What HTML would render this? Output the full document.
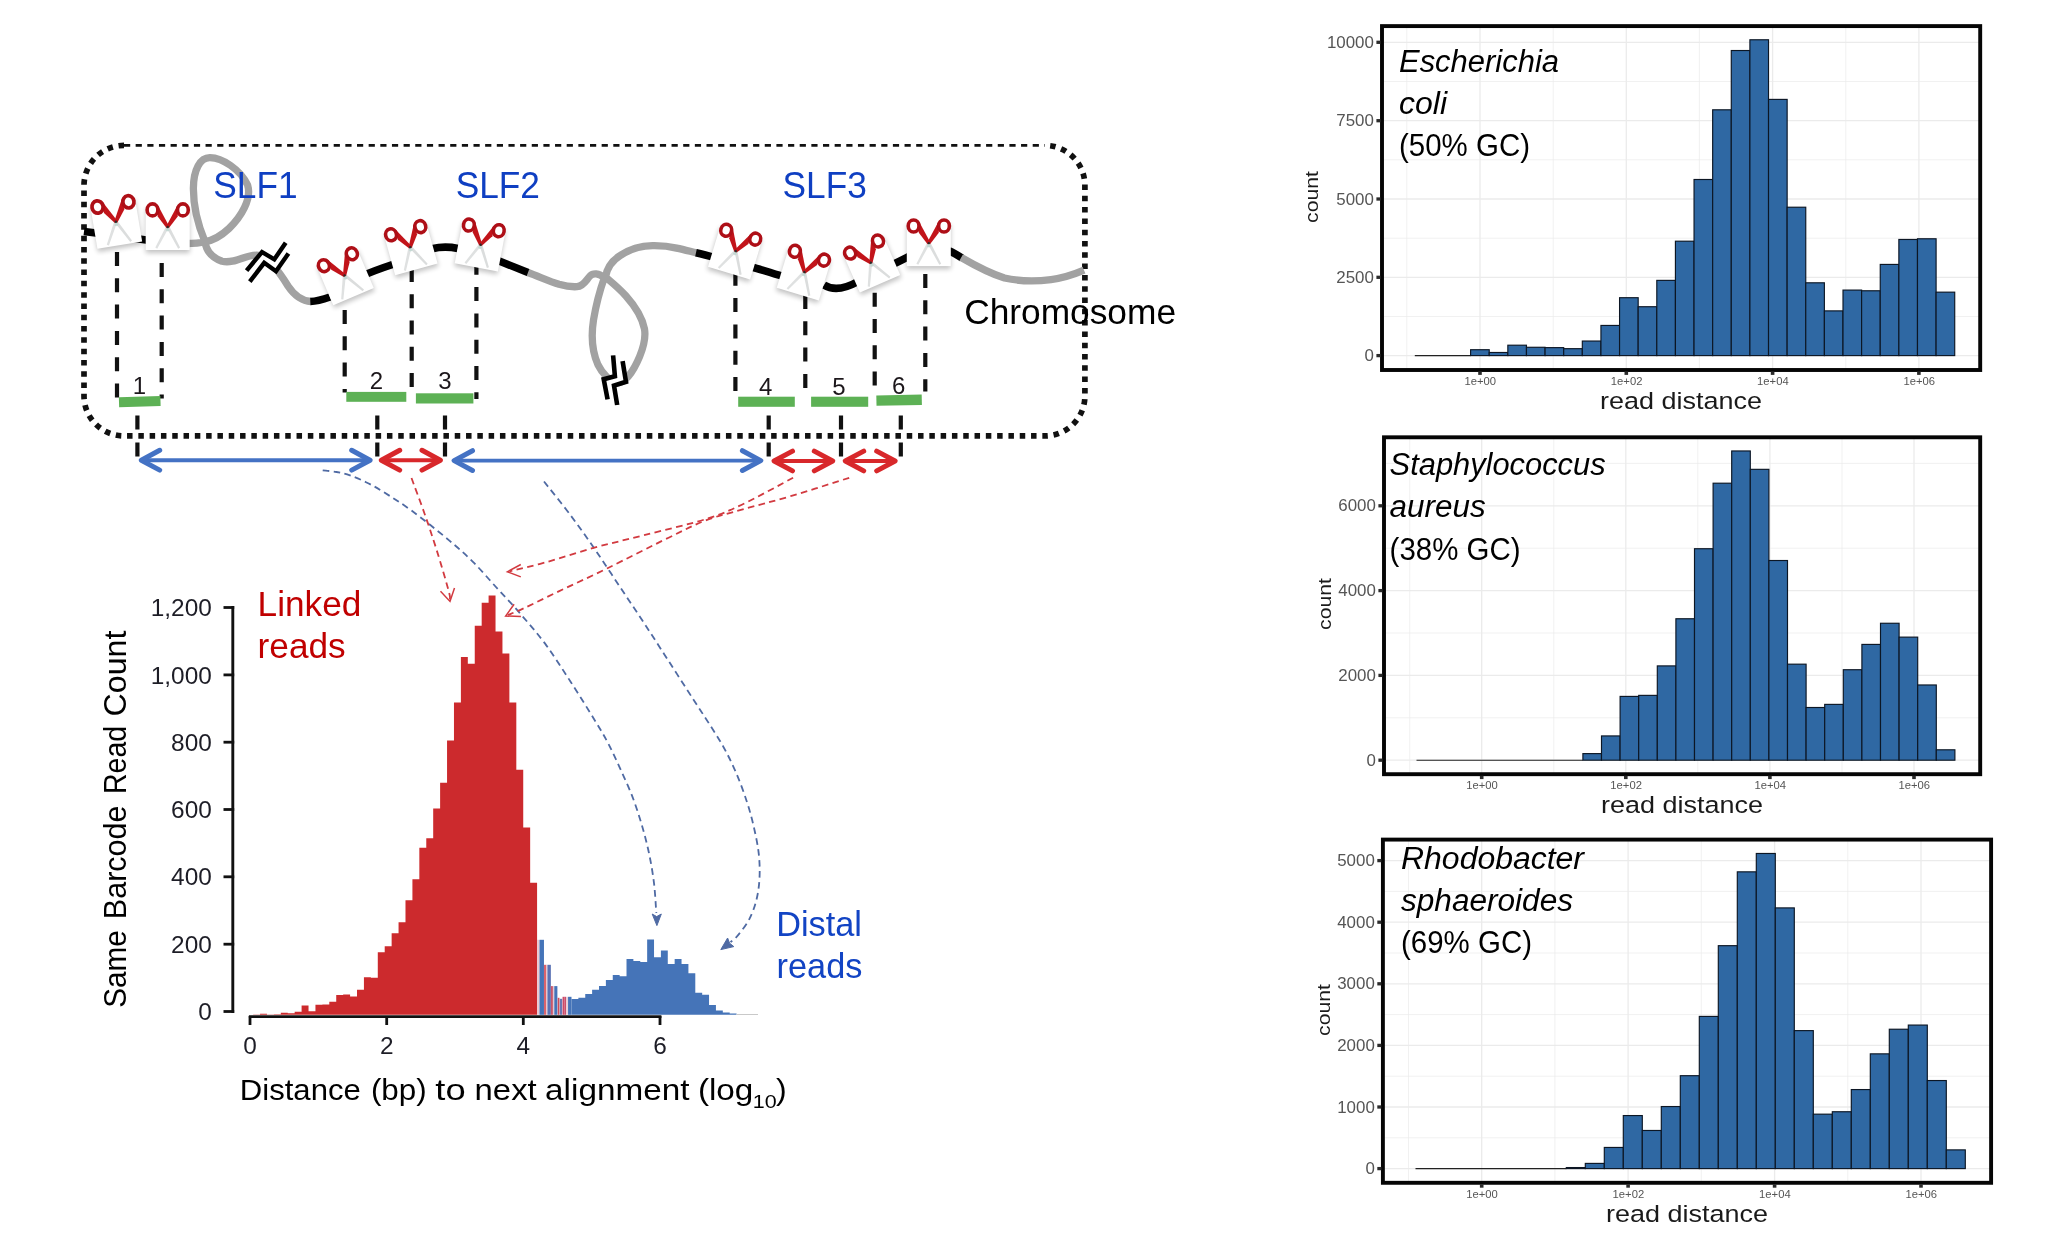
<!DOCTYPE html>
<html><head><meta charset="utf-8"><title>Figure</title>
<style>html,body{margin:0;padding:0;background:#fff;}svg{display:block;will-change:transform;}text{font-family:"Liberation Sans",sans-serif;}</style>
</head><body>
<svg width="2048" height="1245" viewBox="0 0 2048 1245">
<rect x="0" y="0" width="2048" height="1245" fill="#ffffff"/>
<defs>
<filter id="sh" x="-40%" y="-40%" width="180%" height="190%"><feGaussianBlur stdDeviation="2.6"/></filter>
<g id="sc">
<rect x="0" y="8" width="44" height="44" fill="#000" opacity="0.24" filter="url(#sh)"/>
<rect x="0" y="0" width="44" height="49" fill="#fff"/>
<path d="M21.2 23.8 L23.8 25.4 L11.5 47.7 L9.6 46.6 Z" fill="#dfe1e1"/>
<path d="M22.8 23.8 L20.2 25.4 L32.5 47.7 L34.4 46.6 Z" fill="#dbdddd"/>
<path d="M22 25 L23.9 26.2 L21.7 30.4 L19.9 29.3 Z" fill="#c4d9d4"/>
<path d="M22 25 L20.1 26.2 L22.3 30.4 L24.1 29.3 Z" fill="#c4d9d4"/>
<path d="M12.0 15.6 L12.2 4.3 L23.3 25.0 L20.8 27.1 Z" fill="#c2141a"/>
<path d="M32.0 15.6 L31.8 4.3 L20.7 25.0 L23.2 27.1 Z" fill="#c2141a"/>
<ellipse cx="6.8" cy="8.9" rx="5.4" ry="6.0" fill="#fff" stroke="#ae0f17" stroke-width="3.6"/>
<ellipse cx="37.2" cy="8.9" rx="5.4" ry="6.0" fill="#fff" stroke="#ae0f17" stroke-width="3.6"/>
<circle cx="22" cy="26" r="1.2" fill="#2c2c2c"/>
</g>
</defs>
<g id="diagram">
<path d="M124.0 145.4 L1044.9 145.4" fill="none" stroke="#111" stroke-width="2.9" stroke-dasharray="6.2 5.45"/>
<path d="M124.0 145.4 A40 40 0 0 0 84.0 185.4 L84.0 395.9 A40 40 0 0 0 124.0 435.9 L1044.9 435.9 A40 40 0 0 0 1084.9 395.9 L1084.9 185.4 A40 40 0 0 0 1044.9 145.4" fill="none" stroke="#111" stroke-width="5.7" stroke-dasharray="5.5 5.8"/>
<path d="M84 231.5 L100 233.5" fill="none" stroke="#000" stroke-width="7.6" stroke-linecap="butt" stroke-linejoin="round" />
<path d="M128 237.5 L150 240.5" fill="none" stroke="#000" stroke-width="7.6" stroke-linecap="butt" stroke-linejoin="round" />
<path d="M186 243.5 C195 243.5 200 243 205 241.7 C198 225 193.2 206 193.4 187.8 C193.6 170 200 157.4 210 157.6 C222 157.8 240 169 247.6 185 C252 199 241 217 229 228.5 C221 236 212 240.6 205 241.7 C206 249 210 257 222 261.3 C236 264.5 248 252.5 260 255.5 C270 258.5 280 273 288 286 C294 295 302 301 311 301.5" fill="none" stroke="#a2a2a2" stroke-width="7.3" stroke-linecap="butt" stroke-linejoin="round" />
<path d="M310.3 301.5 C316 301.3 322 299.8 330 297" fill="none" stroke="#000" stroke-width="7.6" stroke-linecap="butt" stroke-linejoin="round" />
<path d="M362 276 C372 271.5 382 268 394 264" fill="none" stroke="#000" stroke-width="7.6" stroke-linecap="butt" stroke-linejoin="round" />
<path d="M432 248.7 C440 246.8 450 246.8 458 248.5" fill="none" stroke="#000" stroke-width="7.6" stroke-linecap="butt" stroke-linejoin="round" />
<path d="M498 260.5 C508 264.5 518 268.5 528.6 272.7" fill="none" stroke="#000" stroke-width="7.6" stroke-linecap="butt" stroke-linejoin="round" />
<path d="M528 272.5 C540 277 550 281.5 559 284.3 C566 286.3 572 287 577 286.7 C584 286 586 280 590 276 C593 273 599 273 604.3 277.9 C600 290 596 305 593.5 320 C591 336 591.5 350 597.9 364.6 C602 373 610 382 618 383 C626 382 634 370 639.6 356.6 C644 346 646 338 644.5 329 C642 316 634 305 626 296 C618 287 610 281 605.5 277 C607 268 613 260 620.4 255.4 C630 249 641 246 652.5 245.7 C664 245.5 672 247 676.6 248.1 C684 249.7 690 251.3 696.7 252.9" fill="none" stroke="#a2a2a2" stroke-width="7.3" stroke-linecap="butt" stroke-linejoin="round" />
<path d="M696 252.7 C702 254 708 255.6 716 258" fill="none" stroke="#000" stroke-width="7.6" stroke-linecap="butt" stroke-linejoin="round" />
<path d="M752 267 C762 270 771 273 784 276.8" fill="none" stroke="#000" stroke-width="7.6" stroke-linecap="butt" stroke-linejoin="round" />
<path d="M824 285 C832 290 842 290.5 858 281.5" fill="none" stroke="#000" stroke-width="7.6" stroke-linecap="butt" stroke-linejoin="round" />
<path d="M893 264.4 C899 261.5 904 259 909 256.4" fill="none" stroke="#000" stroke-width="7.6" stroke-linecap="butt" stroke-linejoin="round" />
<path d="M949 250.8 C954 253 958 255.5 962 258" fill="none" stroke="#000" stroke-width="7.6" stroke-linecap="butt" stroke-linejoin="round" />
<path d="M961.2 257.5 C975 265.5 990 273.5 1004.5 278 C1020 281.5 1036 281.5 1051 279.7 C1063 278 1074 274.5 1084 270.2" fill="none" stroke="#a2a2a2" stroke-width="7.3" stroke-linecap="butt" stroke-linejoin="round" />
<path d="M250.5 273.5 L263.1 257.4 L275.15 265.3 L285 251" fill="none" stroke="#fff" stroke-width="8"/>
<path d="M619.0 366 L620.45 379 L608.85 382.35 L611 394" fill="none" stroke="#fff" stroke-width="8"/>
<path d="M246.6 270.6 L262 252 L274.3 259.4 L285.7 242.7" fill="none" stroke="#000" stroke-width="4.4" stroke-linejoin="miter" stroke-linecap="butt"/>
<path d="M249.8 281.6 L264.2 262.8 L276 271.2 L288.4 253.6" fill="none" stroke="#000" stroke-width="4.4" stroke-linejoin="miter" stroke-linecap="butt"/>
<path d="M613.1 355.4 L614.9 376.2 L603.7 379.2 L607.6 399.4" fill="none" stroke="#000" stroke-width="4.6" stroke-linejoin="miter" stroke-linecap="butt"/>
<path d="M622.6 361.2 L626 381.8 L614.0 385.5 L617.2 405" fill="none" stroke="#000" stroke-width="4.6" stroke-linejoin="miter" stroke-linecap="butt"/>
<line x1="117" y1="252" x2="117" y2="398" stroke="#111" stroke-width="4.2" stroke-dasharray="14 12.3" stroke-dashoffset="0.00"/>
<line x1="161.7" y1="263" x2="161.7" y2="398.5" stroke="#111" stroke-width="4.2" stroke-dasharray="14 12.3" stroke-dashoffset="0.00"/>
<line x1="344.7" y1="310" x2="344.7" y2="392.4" stroke="#111" stroke-width="4.2" stroke-dasharray="14 12.3" stroke-dashoffset="0.00"/>
<line x1="411.7" y1="267.9" x2="411.7" y2="387" stroke="#111" stroke-width="4.2" stroke-dasharray="14 12.3" stroke-dashoffset="0.00"/>
<line x1="476.4" y1="260.8" x2="476.4" y2="399" stroke="#111" stroke-width="4.2" stroke-dasharray="14 12.3" stroke-dashoffset="0.00"/>
<line x1="735.4" y1="271.8" x2="735.4" y2="391.5" stroke="#111" stroke-width="4.2" stroke-dasharray="14 12.3" stroke-dashoffset="0.00"/>
<line x1="805.3" y1="295.0" x2="805.3" y2="388" stroke="#111" stroke-width="4.2" stroke-dasharray="14 12.3" stroke-dashoffset="0.00"/>
<line x1="874.7" y1="292.7" x2="874.7" y2="385.7" stroke="#111" stroke-width="4.2" stroke-dasharray="14 12.3" stroke-dashoffset="0.00"/>
<line x1="925.3" y1="274.0" x2="925.3" y2="391.5" stroke="#111" stroke-width="4.2" stroke-dasharray="14 12.3" stroke-dashoffset="0.00"/>
<line x1="137.4" y1="415.4" x2="137.4" y2="456.5" stroke="#111" stroke-width="4.2" stroke-dasharray="14 13"/>
<line x1="377.3" y1="415.4" x2="377.3" y2="456.5" stroke="#111" stroke-width="4.2" stroke-dasharray="14 13"/>
<line x1="445.0" y1="415.4" x2="445.0" y2="456.5" stroke="#111" stroke-width="4.2" stroke-dasharray="14 13"/>
<line x1="768.7" y1="415.4" x2="768.7" y2="456.5" stroke="#111" stroke-width="4.2" stroke-dasharray="14 13"/>
<line x1="841.0" y1="415.4" x2="841.0" y2="456.5" stroke="#111" stroke-width="4.2" stroke-dasharray="14 13"/>
<line x1="900.8" y1="415.4" x2="900.8" y2="456.5" stroke="#111" stroke-width="4.2" stroke-dasharray="14 13"/>
<rect x="119" y="396.6" width="41.5" height="10.0" fill="#5db155" transform="rotate(-1.6 139.75 401.6)"/>
<rect x="346.3" y="391.9" width="60.0" height="9.9" fill="#5db155"/>
<rect x="415.9" y="393.3" width="57.5" height="10.2" fill="#5db155"/>
<rect x="738.2" y="396.7" width="56.6" height="10.1" fill="#5db155"/>
<rect x="811.1" y="396.7" width="57.1" height="10.1" fill="#5db155"/>
<rect x="876.4" y="395.0" width="45.4" height="10.4" fill="#5db155" transform="rotate(-1.2 899.0999999999999 400.2)"/>
<text x="139.4" y="394.1" font-size="24" fill="#1c171b" text-anchor="middle">1</text>
<text x="376.5" y="389.1" font-size="24" fill="#1c171b" text-anchor="middle">2</text>
<text x="445" y="389.1" font-size="24" fill="#1c171b" text-anchor="middle">3</text>
<text x="765.6" y="395" font-size="24" fill="#1c171b" text-anchor="middle">4</text>
<text x="839" y="394.6" font-size="24" fill="#1c171b" text-anchor="middle">5</text>
<text x="898.8" y="394.3" font-size="24" fill="#1c171b" text-anchor="middle">6</text>
<use href="#sc" transform="translate(113.0 204.5) rotate(-9.5) scale(1.03) translate(-22 -9)"/>
<use href="#sc" transform="translate(167.7 210.0) rotate(0) scale(1.0) translate(-22 -9)"/>
<use href="#sc" transform="translate(337.9 259.8) rotate(-23) scale(1.0) translate(-22 -9)"/>
<use href="#sc" transform="translate(405.7 230.8) rotate(-15.5) scale(1.0) translate(-22 -9)"/>
<use href="#sc" transform="translate(483.8 228.0) rotate(10.8) scale(1.0) translate(-22 -9)"/>
<use href="#sc" transform="translate(740.7 234.8) rotate(16.9) scale(1.0) translate(-22 -9)"/>
<use href="#sc" transform="translate(809.4 255.8) rotate(16.9) scale(1.0) translate(-22 -9)"/>
<use href="#sc" transform="translate(864.1 247.1) rotate(-23.5) scale(1.0) translate(-22 -9)"/>
<use href="#sc" transform="translate(928.8 226.1) rotate(0) scale(1.0) translate(-22 -9)"/>
<text x="213.3" y="198.2" font-size="36.6" fill="#0f3fc2" text-anchor="start" textLength="84.3" lengthAdjust="spacingAndGlyphs">SLF1</text>
<text x="455.7" y="198.2" font-size="36.6" fill="#0f3fc2" text-anchor="start" textLength="84.3" lengthAdjust="spacingAndGlyphs">SLF2</text>
<text x="782.5" y="198.2" font-size="36.6" fill="#0f3fc2" text-anchor="start" textLength="84.3" lengthAdjust="spacingAndGlyphs">SLF3</text>
<text x="964.2" y="324.4" font-size="35.3" fill="#000" text-anchor="start" >Chromosome</text>
<g fill="none" stroke="#4472c4" stroke-linecap="round" stroke-linejoin="round">
<line x1="142.2" y1="460.2" x2="369.2" y2="460.2" stroke-width="3.9" stroke-linecap="butt"/>
<path d="M159.7 450.3 L141.29999999999998 460.2 L159.7 470.09999999999997" stroke-width="5.0"/>
<path d="M351.7 450.3 L370.09999999999997 460.2 L351.7 470.09999999999997" stroke-width="5.0"/>
</g>
<g fill="none" stroke="#d8282b" stroke-linecap="round" stroke-linejoin="round">
<line x1="382.2" y1="460.2" x2="439.5" y2="460.2" stroke-width="3.9" stroke-linecap="butt"/>
<path d="M399.7 450.3 L381.3 460.2 L399.7 470.09999999999997" stroke-width="5.0"/>
<path d="M422.0 450.3 L440.4 460.2 L422.0 470.09999999999997" stroke-width="5.0"/>
</g>
<g fill="none" stroke="#4472c4" stroke-linecap="round" stroke-linejoin="round">
<line x1="455.0" y1="460.6" x2="759.9" y2="460.6" stroke-width="3.9" stroke-linecap="butt"/>
<path d="M472.5 450.70000000000005 L454.1 460.6 L472.5 470.5" stroke-width="5.0"/>
<path d="M742.4 450.70000000000005 L760.8 460.6 L742.4 470.5" stroke-width="5.0"/>
</g>
<g fill="none" stroke="#d8282b" stroke-linecap="round" stroke-linejoin="round">
<line x1="775.0" y1="461.0" x2="831.8" y2="461.0" stroke-width="3.9" stroke-linecap="butt"/>
<path d="M792.5 451.1 L774.1 461.0 L792.5 470.9" stroke-width="5.0"/>
<path d="M814.3 451.1 L832.6999999999999 461.0 L814.3 470.9" stroke-width="5.0"/>
</g>
<g fill="none" stroke="#d8282b" stroke-linecap="round" stroke-linejoin="round">
<line x1="846.2" y1="461.0" x2="894.2" y2="461.0" stroke-width="3.9" stroke-linecap="butt"/>
<path d="M863.7 451.1 L845.3000000000001 461.0 L863.7 470.9" stroke-width="5.0"/>
<path d="M876.7 451.1 L895.1 461.0 L876.7 470.9" stroke-width="5.0"/>
</g>
</g>
<g id="curves" fill="none" stroke-width="1.8">
<path d="M322.7 470.3 C325.0 470.6 331.9 471.1 336.5 472.0 C341.1 472.9 345.1 473.7 350.0 475.4 C354.9 477.1 360.5 479.5 366.0 482.2 C371.5 484.9 375.4 486.9 383.2 491.8 C390.9 496.7 401.6 503.2 412.5 511.3 C423.4 519.4 438.7 531.6 448.8 540.1 C458.9 548.6 465.1 554.0 473.2 562.1 C481.3 570.2 489.5 580.0 497.7 588.9 C505.9 597.8 514.0 606.3 522.1 615.8 C530.2 625.2 538.4 634.5 546.5 645.6 C554.6 656.7 562.6 669.4 570.9 682.2 C579.2 695.0 589.9 712.3 596.1 722.5 C602.3 732.7 604.2 735.7 608.2 743.4 C612.2 751.1 616.2 759.9 620.2 768.7 C624.2 777.5 628.7 787.0 632.3 796.4 C635.9 805.8 639.1 815.7 641.9 825.3 C644.7 834.9 647.2 844.6 649.2 854.2 C651.2 863.8 652.8 873.3 654.0 883.1 C655.2 892.9 655.9 908.0 656.3 913.0" stroke="#4f6aa3" stroke-dasharray="6.6 4.4"/>
<path d="M652.2 914.0 L656.9 925.6 L661.3 914.0 L656.7 916.6 Z" stroke="#4f6aa3" fill="#4f6aa3" stroke-width="1" stroke-linejoin="miter"/>
<path d="M544.0 481.5 C548.5 487.2 562.4 504.3 570.9 515.7 C579.4 527.1 587.2 538.1 595.3 549.9 C603.4 561.7 611.6 574.3 619.7 586.5 C627.8 598.7 636.0 610.7 644.1 623.1 C652.2 635.5 660.4 648.3 668.6 661.0 C676.8 673.7 686.5 688.8 693.2 699.2 C699.9 709.6 703.7 715.2 708.8 723.2 C713.9 731.2 719.1 739.0 723.6 747.2 C728.1 755.4 732.0 763.3 735.9 772.3 C739.8 781.3 743.7 792.0 746.7 801.2 C749.7 810.4 752.0 818.9 754.0 827.7 C756.0 836.5 757.9 845.8 758.8 854.2 C759.7 862.6 759.9 870.7 759.5 878.3 C759.1 885.9 758.1 893.2 756.4 900.0 C754.7 906.8 752.2 913.5 749.2 919.3 C746.2 925.1 741.4 931.1 738.3 934.9 C735.2 938.7 731.8 941.0 730.5 942.2" stroke="#4f6aa3" stroke-dasharray="6.6 4.4"/>
<path d="M727.6 938.0 L720.8 949.6 L733.8 946.6 L729.6 943.2 Z" stroke="#4f6aa3" fill="#4f6aa3" stroke-width="1" stroke-linejoin="miter"/>
<path d="M411.5 478.0 C413.6 483.9 420.2 501.2 424.4 513.2 C428.6 525.2 432.5 536.9 436.6 549.9 C440.7 562.9 446.6 583.1 448.8 591.4 C451.0 599.7 449.6 598.1 449.8 599.5" stroke="#d23a40" stroke-dasharray="6.6 4.4"/>
<path d="M440.5 591.2 L450 601.4 L454.5 587.9" stroke="#d23a40" stroke-width="1.5"/>
<path d="M793.1 477.8 C784.5 482.3 756.4 497.8 741.8 504.7 C727.1 511.6 721.5 514.2 705.2 519.3 C688.9 524.4 662.4 530.5 644.1 535.2 C625.8 539.9 611.6 542.9 595.3 547.4 C579.0 551.9 560.8 558.1 546.5 562.1 C532.2 566.1 515.7 569.8 509.5 571.3" stroke="#d23a40" stroke-dasharray="6.6 4.4"/>
<path d="M520.8 564.5 L507.4 571.8 L520.8 576.9" stroke="#d23a40" stroke-width="1.5"/>
<path d="M849.2 477.8 C839.4 480.9 808.5 490.9 790.6 496.2 C772.7 501.5 756.0 505.5 741.8 509.6 C727.6 513.7 717.4 515.9 705.2 520.6 C693.0 525.3 684.9 529.8 668.6 537.7 C652.3 545.6 625.8 559.2 607.5 568.2 C589.2 577.2 572.7 584.7 558.7 591.4 C544.7 598.1 532.2 604.4 523.7 608.3 C515.2 612.2 510.6 613.9 508.0 615.0" stroke="#d23a40" stroke-dasharray="6.6 4.4"/>
<path d="M514.1 604.2 L505.7 616 L520.9 616.5" stroke="#d23a40" stroke-width="1.5"/>
</g>
<g id="hist">
<path d="M253.12 1014.8 L253.12 1014.40 L260.04 1014.40 L260.04 1013.80 L266.97 1013.80 L266.97 1014.40 L273.90 1014.40 L273.90 1014.20 L280.82 1014.20 L280.82 1012.80 L287.75 1012.80 L287.75 1013.20 L294.67 1013.20 L294.67 1011.80 L301.60 1011.80 L301.60 1005.40 L308.53 1005.40 L308.53 1011.20 L315.45 1011.20 L315.45 1004.80 L322.38 1004.80 L322.38 1004.40 L329.30 1004.40 L329.30 1001.80 L336.23 1001.80 L336.23 995.00 L343.16 995.00 L343.16 994.40 L350.08 994.40 L350.08 996.50 L357.01 996.50 L357.01 989.80 L363.93 989.80 L363.93 977.20 L370.86 977.20 L370.86 977.80 L377.79 977.80 L377.79 952.30 L384.71 952.30 L384.71 946.30 L391.64 946.30 L391.64 933.30 L398.56 933.30 L398.56 922.30 L405.49 922.30 L405.49 900.20 L412.42 900.20 L412.42 879.20 L419.34 879.20 L419.34 847.80 L426.27 847.80 L426.27 838.20 L433.19 838.20 L433.19 808.60 L440.12 808.60 L440.12 782.80 L447.05 782.80 L447.05 740.60 L453.97 740.60 L453.97 702.50 L460.90 702.50 L460.90 657.10 L467.82 657.10 L467.82 663.80 L474.75 663.80 L474.75 625.80 L481.68 625.80 L481.68 602.80 L488.60 602.80 L488.60 595.40 L495.53 595.40 L495.53 631.60 L502.45 631.60 L502.45 653.40 L509.38 653.40 L509.38 702.50 L516.31 702.50 L516.31 769.80 L523.23 769.80 L523.23 827.40 L530.16 827.40 L530.16 882.80 L537.08 882.80 L537.08 1014.8 Z" fill="#cc2a2d"/>
<rect x="537.08" y="939.80" width="2.41" height="75.00" fill="#e9c9d3"/>
<rect x="539.49" y="939.80" width="4.47" height="75.00" fill="#4574b8"/>
<rect x="543.98" y="964.80" width="2.41" height="50.00" fill="#d9636c"/>
<rect x="546.39" y="964.80" width="1.03" height="50.00" fill="#e3c6d2"/>
<rect x="547.42" y="964.80" width="3.44" height="50.00" fill="#5a72b4"/>
<rect x="550.86" y="986.10" width="2.06" height="28.70" fill="#c9566a"/>
<rect x="552.92" y="986.10" width="1.38" height="28.70" fill="#e3c6d2"/>
<rect x="554.29" y="986.10" width="3.10" height="28.70" fill="#4574b8"/>
<rect x="557.73" y="997.80" width="1.72" height="17.00" fill="#d04b58"/>
<rect x="559.80" y="998.80" width="2.41" height="16.00" fill="#6a78b4"/>
<rect x="562.55" y="996.80" width="2.06" height="18.00" fill="#cc4a68"/>
<rect x="564.61" y="996.80" width="1.38" height="18.00" fill="#cc4a68"/>
<rect x="565.99" y="996.80" width="2.06" height="18.00" fill="#e6d0da"/>
<rect x="568.05" y="996.80" width="3.44" height="18.00" fill="#4574b8"/>
<path d="M571.49 1014.8 L571.49 998.90 L578.37 998.90 L578.37 997.80 L585.25 997.80 L585.25 994.00 L592.12 994.00 L592.12 989.80 L599.00 989.80 L599.00 986.10 L605.88 986.10 L605.88 980.00 L612.76 980.00 L612.76 975.10 L619.64 975.10 L619.64 976.30 L626.51 976.30 L626.51 959.00 L633.39 959.00 L633.39 961.10 L640.27 961.10 L640.27 962.10 L647.15 962.10 L647.15 939.50 L654.03 939.50 L654.03 957.20 L660.90 957.20 L660.90 950.50 L667.78 950.50 L667.78 964.10 L674.66 964.10 L674.66 959.00 L681.54 959.00 L681.54 964.10 L688.42 964.10 L688.42 973.30 L695.29 973.30 L695.29 992.80 L702.17 992.80 L702.17 994.80 L709.05 994.80 L709.05 1005.00 L715.93 1005.00 L715.93 1010.50 L722.81 1010.50 L722.81 1012.40 L729.68 1012.40 L729.68 1013.60 L736.56 1013.60 L736.56 1014.8 Z" fill="#4574b8"/>
<line x1="736.6" y1="1014.5" x2="758" y2="1014.5" stroke="#c9c9c9" stroke-width="1"/>
<line x1="232.8" y1="606.1" x2="232.8" y2="1012.9" stroke="#111" stroke-width="2.9"/>
<line x1="223.5" y1="1011.5" x2="234.2" y2="1011.5" stroke="#111" stroke-width="2.8"/>
<text x="211.8" y="1020.1" font-size="24.4" fill="#1d1d26" text-anchor="end">0</text>
<line x1="223.5" y1="944.2" x2="234.2" y2="944.2" stroke="#111" stroke-width="2.8"/>
<text x="211.8" y="952.8" font-size="24.4" fill="#1d1d26" text-anchor="end">200</text>
<line x1="223.5" y1="876.8" x2="234.2" y2="876.8" stroke="#111" stroke-width="2.8"/>
<text x="211.8" y="885.4" font-size="24.4" fill="#1d1d26" text-anchor="end">400</text>
<line x1="223.5" y1="809.5" x2="234.2" y2="809.5" stroke="#111" stroke-width="2.8"/>
<text x="211.8" y="818.1" font-size="24.4" fill="#1d1d26" text-anchor="end">600</text>
<line x1="223.5" y1="742.2" x2="234.2" y2="742.2" stroke="#111" stroke-width="2.8"/>
<text x="211.8" y="750.8" font-size="24.4" fill="#1d1d26" text-anchor="end">800</text>
<line x1="223.5" y1="674.9" x2="234.2" y2="674.9" stroke="#111" stroke-width="2.8"/>
<text x="211.8" y="683.5" font-size="24.4" fill="#1d1d26" text-anchor="end">1,000</text>
<line x1="223.5" y1="607.5" x2="234.2" y2="607.5" stroke="#111" stroke-width="2.8"/>
<text x="211.8" y="616.1" font-size="24.4" fill="#1d1d26" text-anchor="end">1,200</text>
<line x1="248.9" y1="1016.6" x2="661.4" y2="1016.6" stroke="#111" stroke-width="2.8"/>
<line x1="250.0" y1="1016" x2="250.0" y2="1025" stroke="#111" stroke-width="2.8"/>
<text x="250.0" y="1054.4" font-size="24.4" fill="#1d1d26" text-anchor="middle">0</text>
<line x1="386.7" y1="1016" x2="386.7" y2="1025" stroke="#111" stroke-width="2.8"/>
<text x="386.7" y="1054.4" font-size="24.4" fill="#1d1d26" text-anchor="middle">2</text>
<line x1="523.3" y1="1016" x2="523.3" y2="1025" stroke="#111" stroke-width="2.8"/>
<text x="523.3" y="1054.4" font-size="24.4" fill="#1d1d26" text-anchor="middle">4</text>
<line x1="660.0" y1="1016" x2="660.0" y2="1025" stroke="#111" stroke-width="2.8"/>
<text x="660.0" y="1054.4" font-size="24.4" fill="#1d1d26" text-anchor="middle">6</text>
<text transform="translate(126.4 1007.7) rotate(-90)" font-size="32" fill="#000" textLength="77.4" lengthAdjust="spacingAndGlyphs">Same</text>
<text transform="translate(126.4 919.2) rotate(-90)" font-size="32" fill="#000" textLength="113.7" lengthAdjust="spacingAndGlyphs">Barcode</text>
<text transform="translate(126.4 794.0) rotate(-90)" font-size="32" fill="#000" textLength="68.2" lengthAdjust="spacingAndGlyphs">Read</text>
<text transform="translate(126.4 716.4) rotate(-90)" font-size="32" fill="#000" textLength="85.8" lengthAdjust="spacingAndGlyphs">Count</text>
<text x="239.8" y="1100.3" font-size="29.6" fill="#000" textLength="121.0" lengthAdjust="spacingAndGlyphs">Distance</text>
<text x="370.9" y="1100.3" font-size="29.6" fill="#000" textLength="55.8" lengthAdjust="spacingAndGlyphs">(bp)</text>
<text x="435.3" y="1100.3" font-size="29.6" fill="#000" textLength="30.3" lengthAdjust="spacingAndGlyphs">to</text>
<text x="474.6" y="1100.3" font-size="29.6" fill="#000" textLength="62.1" lengthAdjust="spacingAndGlyphs">next</text>
<text x="545.1" y="1100.3" font-size="29.6" fill="#000" textLength="144.4" lengthAdjust="spacingAndGlyphs">alignment</text>
<text x="697.9" y="1100.3" font-size="29.6" fill="#000" textLength="55.5" lengthAdjust="spacingAndGlyphs">(log</text>
<text x="752.7" y="1108.1" font-size="17.6" fill="#000" textLength="23.9" lengthAdjust="spacingAndGlyphs">10</text>
<text x="775.9" y="1100.3" font-size="29.6" fill="#000" textLength="10.7" lengthAdjust="spacingAndGlyphs">)</text>
<text x="257.6" y="615.9" font-size="35.2" fill="#c00000" text-anchor="start" >Linked</text>
<text x="257.6" y="657.6" font-size="35.2" fill="#c00000" text-anchor="start" >reads</text>
<text x="776.2" y="936.3" font-size="34.3" fill="#1244c4" text-anchor="start" >Distal</text>
<text x="776.6" y="978.4" font-size="34.3" fill="#1244c4" text-anchor="start" >reads</text>
</g>
<g>
<line x1="1382.0" y1="355.6" x2="1980.2" y2="355.6" stroke="#ebebeb" stroke-width="1.3"/>
<line x1="1382.0" y1="277.3" x2="1980.2" y2="277.3" stroke="#ebebeb" stroke-width="1.3"/>
<line x1="1382.0" y1="199.0" x2="1980.2" y2="199.0" stroke="#ebebeb" stroke-width="1.3"/>
<line x1="1382.0" y1="120.7" x2="1980.2" y2="120.7" stroke="#ebebeb" stroke-width="1.3"/>
<line x1="1382.0" y1="42.3" x2="1980.2" y2="42.3" stroke="#ebebeb" stroke-width="1.3"/>
<line x1="1382.0" y1="316.5" x2="1980.2" y2="316.5" stroke="#ebebeb" stroke-width="0.7"/>
<line x1="1382.0" y1="238.2" x2="1980.2" y2="238.2" stroke="#ebebeb" stroke-width="0.7"/>
<line x1="1382.0" y1="159.8" x2="1980.2" y2="159.8" stroke="#ebebeb" stroke-width="0.7"/>
<line x1="1382.0" y1="81.5" x2="1980.2" y2="81.5" stroke="#ebebeb" stroke-width="0.7"/>
<line x1="1480.0" y1="26.1" x2="1480.0" y2="370.0" stroke="#ebebeb" stroke-width="1.3"/>
<line x1="1626.3" y1="26.1" x2="1626.3" y2="370.0" stroke="#ebebeb" stroke-width="1.3"/>
<line x1="1772.6" y1="26.1" x2="1772.6" y2="370.0" stroke="#ebebeb" stroke-width="1.3"/>
<line x1="1918.9" y1="26.1" x2="1918.9" y2="370.0" stroke="#ebebeb" stroke-width="1.3"/>
<line x1="1406.8" y1="26.1" x2="1406.8" y2="370.0" stroke="#ebebeb" stroke-width="0.7"/>
<line x1="1553.2" y1="26.1" x2="1553.2" y2="370.0" stroke="#ebebeb" stroke-width="0.7"/>
<line x1="1699.4" y1="26.1" x2="1699.4" y2="370.0" stroke="#ebebeb" stroke-width="0.7"/>
<line x1="1845.8" y1="26.1" x2="1845.8" y2="370.0" stroke="#ebebeb" stroke-width="0.7"/>
<line x1="1414.8" y1="355.6" x2="1470.6" y2="355.6" stroke="#222" stroke-width="1.1"/>
<rect x="1470.60" y="349.71" width="18.62" height="5.89" fill="#2f68a3" stroke="#0c1624" stroke-width="1.15"/>
<rect x="1489.22" y="352.48" width="18.62" height="3.12" fill="#2f68a3" stroke="#0c1624" stroke-width="1.15"/>
<rect x="1507.84" y="345.20" width="18.62" height="10.40" fill="#2f68a3" stroke="#0c1624" stroke-width="1.15"/>
<rect x="1526.46" y="347.28" width="18.62" height="8.32" fill="#2f68a3" stroke="#0c1624" stroke-width="1.15"/>
<rect x="1545.08" y="347.63" width="18.62" height="7.97" fill="#2f68a3" stroke="#0c1624" stroke-width="1.15"/>
<rect x="1563.70" y="348.67" width="18.62" height="6.93" fill="#2f68a3" stroke="#0c1624" stroke-width="1.15"/>
<rect x="1582.32" y="341.04" width="18.62" height="14.56" fill="#2f68a3" stroke="#0c1624" stroke-width="1.15"/>
<rect x="1600.94" y="325.44" width="18.62" height="30.16" fill="#2f68a3" stroke="#0c1624" stroke-width="1.15"/>
<rect x="1619.56" y="297.70" width="18.62" height="57.90" fill="#2f68a3" stroke="#0c1624" stroke-width="1.15"/>
<rect x="1638.18" y="306.72" width="18.62" height="48.88" fill="#2f68a3" stroke="#0c1624" stroke-width="1.15"/>
<rect x="1656.80" y="280.37" width="18.62" height="75.23" fill="#2f68a3" stroke="#0c1624" stroke-width="1.15"/>
<rect x="1675.42" y="241.20" width="18.62" height="114.40" fill="#2f68a3" stroke="#0c1624" stroke-width="1.15"/>
<rect x="1694.04" y="179.49" width="18.62" height="176.11" fill="#2f68a3" stroke="#0c1624" stroke-width="1.15"/>
<rect x="1712.66" y="109.80" width="18.62" height="245.80" fill="#2f68a3" stroke="#0c1624" stroke-width="1.15"/>
<rect x="1731.28" y="50.52" width="18.62" height="305.08" fill="#2f68a3" stroke="#0c1624" stroke-width="1.15"/>
<rect x="1749.90" y="39.77" width="18.62" height="315.83" fill="#2f68a3" stroke="#0c1624" stroke-width="1.15"/>
<rect x="1768.52" y="99.40" width="18.62" height="256.20" fill="#2f68a3" stroke="#0c1624" stroke-width="1.15"/>
<rect x="1787.14" y="207.22" width="18.62" height="148.38" fill="#2f68a3" stroke="#0c1624" stroke-width="1.15"/>
<rect x="1805.76" y="282.80" width="18.62" height="72.80" fill="#2f68a3" stroke="#0c1624" stroke-width="1.15"/>
<rect x="1824.38" y="310.88" width="18.62" height="44.72" fill="#2f68a3" stroke="#0c1624" stroke-width="1.15"/>
<rect x="1843.00" y="290.08" width="18.62" height="65.52" fill="#2f68a3" stroke="#0c1624" stroke-width="1.15"/>
<rect x="1861.62" y="290.77" width="18.62" height="64.83" fill="#2f68a3" stroke="#0c1624" stroke-width="1.15"/>
<rect x="1880.24" y="264.42" width="18.62" height="91.18" fill="#2f68a3" stroke="#0c1624" stroke-width="1.15"/>
<rect x="1898.86" y="239.46" width="18.62" height="116.14" fill="#2f68a3" stroke="#0c1624" stroke-width="1.15"/>
<rect x="1917.48" y="238.77" width="18.62" height="116.83" fill="#2f68a3" stroke="#0c1624" stroke-width="1.15"/>
<rect x="1936.10" y="292.16" width="18.62" height="63.44" fill="#2f68a3" stroke="#0c1624" stroke-width="1.15"/>
<rect x="1382.0" y="26.1" width="598.2" height="343.9" fill="none" stroke="#050505" stroke-width="3.9"/>
<line x1="1376.4" y1="355.6" x2="1380.5" y2="355.6" stroke="#2b2b2b" stroke-width="3.3"/>
<text x="1373.9" y="361.2" font-size="15.6" fill="#555555" text-anchor="end" textLength="9.4" lengthAdjust="spacingAndGlyphs">0</text>
<line x1="1376.4" y1="277.3" x2="1380.5" y2="277.3" stroke="#2b2b2b" stroke-width="3.3"/>
<text x="1373.9" y="282.9" font-size="15.6" fill="#555555" text-anchor="end" textLength="37.6" lengthAdjust="spacingAndGlyphs">2500</text>
<line x1="1376.4" y1="199.0" x2="1380.5" y2="199.0" stroke="#2b2b2b" stroke-width="3.3"/>
<text x="1373.9" y="204.6" font-size="15.6" fill="#555555" text-anchor="end" textLength="37.6" lengthAdjust="spacingAndGlyphs">5000</text>
<line x1="1376.4" y1="120.7" x2="1380.5" y2="120.7" stroke="#2b2b2b" stroke-width="3.3"/>
<text x="1373.9" y="126.3" font-size="15.6" fill="#555555" text-anchor="end" textLength="37.6" lengthAdjust="spacingAndGlyphs">7500</text>
<line x1="1376.4" y1="42.3" x2="1380.5" y2="42.3" stroke="#2b2b2b" stroke-width="3.3"/>
<text x="1373.9" y="47.9" font-size="15.6" fill="#555555" text-anchor="end" textLength="47.0" lengthAdjust="spacingAndGlyphs">10000</text>
<line x1="1480.0" y1="371.5" x2="1480.0" y2="374.9" stroke="#2b2b2b" stroke-width="3.6"/>
<text x="1480.3" y="385.0" font-size="10.5" fill="#555555" text-anchor="middle" textLength="31.6" lengthAdjust="spacingAndGlyphs">1e+00</text>
<line x1="1626.3" y1="371.5" x2="1626.3" y2="374.9" stroke="#2b2b2b" stroke-width="3.6"/>
<text x="1626.6" y="385.0" font-size="10.5" fill="#555555" text-anchor="middle" textLength="31.6" lengthAdjust="spacingAndGlyphs">1e+02</text>
<line x1="1772.6" y1="371.5" x2="1772.6" y2="374.9" stroke="#2b2b2b" stroke-width="3.6"/>
<text x="1772.9" y="385.0" font-size="10.5" fill="#555555" text-anchor="middle" textLength="31.6" lengthAdjust="spacingAndGlyphs">1e+04</text>
<line x1="1918.9" y1="371.5" x2="1918.9" y2="374.9" stroke="#2b2b2b" stroke-width="3.6"/>
<text x="1919.2" y="385.0" font-size="10.5" fill="#555555" text-anchor="middle" textLength="31.6" lengthAdjust="spacingAndGlyphs">1e+06</text>
<text transform="translate(1318 197) rotate(-90)" font-size="18" fill="#1a1a1a" text-anchor="middle" textLength="52" lengthAdjust="spacingAndGlyphs">count</text>
<text x="1681" y="409" font-size="24.5" fill="#1a1a1a" text-anchor="middle" textLength="162" lengthAdjust="spacingAndGlyphs">read distance</text>
<text x="1399" y="71.5" font-size="31" font-style="italic" fill="#000" textLength="160" lengthAdjust="spacingAndGlyphs">Escherichia</text>
<text x="1399" y="113.9" font-size="31" font-style="italic" fill="#000" textLength="48" lengthAdjust="spacingAndGlyphs">coli</text>
<text x="1399" y="156.3" font-size="31" fill="#000" textLength="131" lengthAdjust="spacingAndGlyphs">(50% GC)</text>
</g>
<g>
<line x1="1384.0" y1="760.2" x2="1980.2" y2="760.2" stroke="#ebebeb" stroke-width="1.3"/>
<line x1="1384.0" y1="675.4" x2="1980.2" y2="675.4" stroke="#ebebeb" stroke-width="1.3"/>
<line x1="1384.0" y1="590.6" x2="1980.2" y2="590.6" stroke="#ebebeb" stroke-width="1.3"/>
<line x1="1384.0" y1="505.8" x2="1980.2" y2="505.8" stroke="#ebebeb" stroke-width="1.3"/>
<line x1="1384.0" y1="717.8" x2="1980.2" y2="717.8" stroke="#ebebeb" stroke-width="0.7"/>
<line x1="1384.0" y1="633.0" x2="1980.2" y2="633.0" stroke="#ebebeb" stroke-width="0.7"/>
<line x1="1384.0" y1="548.2" x2="1980.2" y2="548.2" stroke="#ebebeb" stroke-width="0.7"/>
<line x1="1384.0" y1="463.4" x2="1980.2" y2="463.4" stroke="#ebebeb" stroke-width="0.7"/>
<line x1="1481.7" y1="437.3" x2="1481.7" y2="774.2" stroke="#ebebeb" stroke-width="1.3"/>
<line x1="1625.8" y1="437.3" x2="1625.8" y2="774.2" stroke="#ebebeb" stroke-width="1.3"/>
<line x1="1769.9" y1="437.3" x2="1769.9" y2="774.2" stroke="#ebebeb" stroke-width="1.3"/>
<line x1="1914.0" y1="437.3" x2="1914.0" y2="774.2" stroke="#ebebeb" stroke-width="1.3"/>
<line x1="1409.7" y1="437.3" x2="1409.7" y2="774.2" stroke="#ebebeb" stroke-width="0.7"/>
<line x1="1553.8" y1="437.3" x2="1553.8" y2="774.2" stroke="#ebebeb" stroke-width="0.7"/>
<line x1="1697.8" y1="437.3" x2="1697.8" y2="774.2" stroke="#ebebeb" stroke-width="0.7"/>
<line x1="1842.0" y1="437.3" x2="1842.0" y2="774.2" stroke="#ebebeb" stroke-width="0.7"/>
<line x1="1416.5" y1="760.2" x2="1582.9" y2="760.2" stroke="#222" stroke-width="1.1"/>
<rect x="1582.90" y="753.61" width="18.60" height="6.59" fill="#2f68a3" stroke="#0c1624" stroke-width="1.15"/>
<rect x="1601.50" y="735.93" width="18.60" height="24.27" fill="#2f68a3" stroke="#0c1624" stroke-width="1.15"/>
<rect x="1620.10" y="696.41" width="18.60" height="63.79" fill="#2f68a3" stroke="#0c1624" stroke-width="1.15"/>
<rect x="1638.70" y="695.37" width="18.60" height="64.83" fill="#2f68a3" stroke="#0c1624" stroke-width="1.15"/>
<rect x="1657.30" y="665.90" width="18.60" height="94.30" fill="#2f68a3" stroke="#0c1624" stroke-width="1.15"/>
<rect x="1675.90" y="618.75" width="18.60" height="141.45" fill="#2f68a3" stroke="#0c1624" stroke-width="1.15"/>
<rect x="1694.50" y="548.72" width="18.60" height="211.48" fill="#2f68a3" stroke="#0c1624" stroke-width="1.15"/>
<rect x="1713.10" y="483.20" width="18.60" height="277.00" fill="#2f68a3" stroke="#0c1624" stroke-width="1.15"/>
<rect x="1731.70" y="450.96" width="18.60" height="309.24" fill="#2f68a3" stroke="#0c1624" stroke-width="1.15"/>
<rect x="1750.30" y="469.34" width="18.60" height="290.86" fill="#2f68a3" stroke="#0c1624" stroke-width="1.15"/>
<rect x="1768.90" y="560.51" width="18.60" height="199.69" fill="#2f68a3" stroke="#0c1624" stroke-width="1.15"/>
<rect x="1787.50" y="664.17" width="18.60" height="96.03" fill="#2f68a3" stroke="#0c1624" stroke-width="1.15"/>
<rect x="1806.10" y="707.50" width="18.60" height="52.70" fill="#2f68a3" stroke="#0c1624" stroke-width="1.15"/>
<rect x="1824.70" y="704.38" width="18.60" height="55.82" fill="#2f68a3" stroke="#0c1624" stroke-width="1.15"/>
<rect x="1843.30" y="669.72" width="18.60" height="90.48" fill="#2f68a3" stroke="#0c1624" stroke-width="1.15"/>
<rect x="1861.90" y="644.41" width="18.60" height="115.79" fill="#2f68a3" stroke="#0c1624" stroke-width="1.15"/>
<rect x="1880.50" y="623.26" width="18.60" height="136.94" fill="#2f68a3" stroke="#0c1624" stroke-width="1.15"/>
<rect x="1899.10" y="637.13" width="18.60" height="123.07" fill="#2f68a3" stroke="#0c1624" stroke-width="1.15"/>
<rect x="1917.70" y="684.97" width="18.60" height="75.23" fill="#2f68a3" stroke="#0c1624" stroke-width="1.15"/>
<rect x="1936.30" y="749.80" width="18.60" height="10.40" fill="#2f68a3" stroke="#0c1624" stroke-width="1.15"/>
<rect x="1384.0" y="437.3" width="596.2" height="336.90000000000003" fill="none" stroke="#050505" stroke-width="3.9"/>
<line x1="1378.4" y1="760.2" x2="1382.5" y2="760.2" stroke="#2b2b2b" stroke-width="3.3"/>
<text x="1375.9" y="765.8" font-size="15.6" fill="#555555" text-anchor="end" textLength="9.4" lengthAdjust="spacingAndGlyphs">0</text>
<line x1="1378.4" y1="675.4" x2="1382.5" y2="675.4" stroke="#2b2b2b" stroke-width="3.3"/>
<text x="1375.9" y="681.0" font-size="15.6" fill="#555555" text-anchor="end" textLength="37.6" lengthAdjust="spacingAndGlyphs">2000</text>
<line x1="1378.4" y1="590.6" x2="1382.5" y2="590.6" stroke="#2b2b2b" stroke-width="3.3"/>
<text x="1375.9" y="596.2" font-size="15.6" fill="#555555" text-anchor="end" textLength="37.6" lengthAdjust="spacingAndGlyphs">4000</text>
<line x1="1378.4" y1="505.8" x2="1382.5" y2="505.8" stroke="#2b2b2b" stroke-width="3.3"/>
<text x="1375.9" y="511.4" font-size="15.6" fill="#555555" text-anchor="end" textLength="37.6" lengthAdjust="spacingAndGlyphs">6000</text>
<line x1="1481.7" y1="775.7" x2="1481.7" y2="779.1" stroke="#2b2b2b" stroke-width="3.6"/>
<text x="1482.0" y="789.2" font-size="10.5" fill="#555555" text-anchor="middle" textLength="31.6" lengthAdjust="spacingAndGlyphs">1e+00</text>
<line x1="1625.8" y1="775.7" x2="1625.8" y2="779.1" stroke="#2b2b2b" stroke-width="3.6"/>
<text x="1626.1" y="789.2" font-size="10.5" fill="#555555" text-anchor="middle" textLength="31.6" lengthAdjust="spacingAndGlyphs">1e+02</text>
<line x1="1769.9" y1="775.7" x2="1769.9" y2="779.1" stroke="#2b2b2b" stroke-width="3.6"/>
<text x="1770.2" y="789.2" font-size="10.5" fill="#555555" text-anchor="middle" textLength="31.6" lengthAdjust="spacingAndGlyphs">1e+04</text>
<line x1="1914.0" y1="775.7" x2="1914.0" y2="779.1" stroke="#2b2b2b" stroke-width="3.6"/>
<text x="1914.3" y="789.2" font-size="10.5" fill="#555555" text-anchor="middle" textLength="31.6" lengthAdjust="spacingAndGlyphs">1e+06</text>
<text transform="translate(1331 604) rotate(-90)" font-size="18" fill="#1a1a1a" text-anchor="middle" textLength="52" lengthAdjust="spacingAndGlyphs">count</text>
<text x="1682" y="813" font-size="24.5" fill="#1a1a1a" text-anchor="middle" textLength="162" lengthAdjust="spacingAndGlyphs">read distance</text>
<text x="1389.6" y="474.8" font-size="31" font-style="italic" fill="#000" textLength="216" lengthAdjust="spacingAndGlyphs">Staphylococcus</text>
<text x="1389.6" y="517.2" font-size="31" font-style="italic" fill="#000" textLength="96" lengthAdjust="spacingAndGlyphs">aureus</text>
<text x="1389.6" y="559.6" font-size="31" fill="#000" textLength="131" lengthAdjust="spacingAndGlyphs">(38% GC)</text>
</g>
<g>
<line x1="1382.9" y1="1168.6" x2="1991.1" y2="1168.6" stroke="#ebebeb" stroke-width="1.3"/>
<line x1="1382.9" y1="1107.0" x2="1991.1" y2="1107.0" stroke="#ebebeb" stroke-width="1.3"/>
<line x1="1382.9" y1="1045.4" x2="1991.1" y2="1045.4" stroke="#ebebeb" stroke-width="1.3"/>
<line x1="1382.9" y1="983.8" x2="1991.1" y2="983.8" stroke="#ebebeb" stroke-width="1.3"/>
<line x1="1382.9" y1="922.2" x2="1991.1" y2="922.2" stroke="#ebebeb" stroke-width="1.3"/>
<line x1="1382.9" y1="860.6" x2="1991.1" y2="860.6" stroke="#ebebeb" stroke-width="1.3"/>
<line x1="1382.9" y1="1137.8" x2="1991.1" y2="1137.8" stroke="#ebebeb" stroke-width="0.7"/>
<line x1="1382.9" y1="1076.2" x2="1991.1" y2="1076.2" stroke="#ebebeb" stroke-width="0.7"/>
<line x1="1382.9" y1="1014.6" x2="1991.1" y2="1014.6" stroke="#ebebeb" stroke-width="0.7"/>
<line x1="1382.9" y1="953.0" x2="1991.1" y2="953.0" stroke="#ebebeb" stroke-width="0.7"/>
<line x1="1382.9" y1="891.4" x2="1991.1" y2="891.4" stroke="#ebebeb" stroke-width="0.7"/>
<line x1="1481.7" y1="839.6" x2="1481.7" y2="1182.8" stroke="#ebebeb" stroke-width="1.3"/>
<line x1="1628.1" y1="839.6" x2="1628.1" y2="1182.8" stroke="#ebebeb" stroke-width="1.3"/>
<line x1="1774.6" y1="839.6" x2="1774.6" y2="1182.8" stroke="#ebebeb" stroke-width="1.3"/>
<line x1="1921.0" y1="839.6" x2="1921.0" y2="1182.8" stroke="#ebebeb" stroke-width="1.3"/>
<line x1="1408.5" y1="839.6" x2="1408.5" y2="1182.8" stroke="#ebebeb" stroke-width="0.7"/>
<line x1="1554.9" y1="839.6" x2="1554.9" y2="1182.8" stroke="#ebebeb" stroke-width="0.7"/>
<line x1="1701.3" y1="839.6" x2="1701.3" y2="1182.8" stroke="#ebebeb" stroke-width="0.7"/>
<line x1="1847.8" y1="839.6" x2="1847.8" y2="1182.8" stroke="#ebebeb" stroke-width="0.7"/>
<line x1="1415.5" y1="1168.6" x2="1566.3" y2="1168.6" stroke="#222" stroke-width="1.1"/>
<rect x="1566.30" y="1167.56" width="19.00" height="1.04" fill="#2f68a3" stroke="#0c1624" stroke-width="1.15"/>
<rect x="1585.30" y="1163.40" width="19.00" height="5.20" fill="#2f68a3" stroke="#0c1624" stroke-width="1.15"/>
<rect x="1604.30" y="1147.45" width="19.00" height="21.15" fill="#2f68a3" stroke="#0c1624" stroke-width="1.15"/>
<rect x="1623.30" y="1115.56" width="19.00" height="53.04" fill="#2f68a3" stroke="#0c1624" stroke-width="1.15"/>
<rect x="1642.30" y="1130.47" width="19.00" height="38.13" fill="#2f68a3" stroke="#0c1624" stroke-width="1.15"/>
<rect x="1661.30" y="1106.54" width="19.00" height="62.06" fill="#2f68a3" stroke="#0c1624" stroke-width="1.15"/>
<rect x="1680.30" y="1075.69" width="19.00" height="92.91" fill="#2f68a3" stroke="#0c1624" stroke-width="1.15"/>
<rect x="1699.30" y="1016.41" width="19.00" height="152.19" fill="#2f68a3" stroke="#0c1624" stroke-width="1.15"/>
<rect x="1718.30" y="945.68" width="19.00" height="222.92" fill="#2f68a3" stroke="#0c1624" stroke-width="1.15"/>
<rect x="1737.30" y="871.84" width="19.00" height="296.76" fill="#2f68a3" stroke="#0c1624" stroke-width="1.15"/>
<rect x="1756.30" y="853.47" width="19.00" height="315.13" fill="#2f68a3" stroke="#0c1624" stroke-width="1.15"/>
<rect x="1775.30" y="907.90" width="19.00" height="260.70" fill="#2f68a3" stroke="#0c1624" stroke-width="1.15"/>
<rect x="1794.30" y="1030.62" width="19.00" height="137.98" fill="#2f68a3" stroke="#0c1624" stroke-width="1.15"/>
<rect x="1813.30" y="1114.17" width="19.00" height="54.43" fill="#2f68a3" stroke="#0c1624" stroke-width="1.15"/>
<rect x="1832.30" y="1111.74" width="19.00" height="56.86" fill="#2f68a3" stroke="#0c1624" stroke-width="1.15"/>
<rect x="1851.30" y="1089.56" width="19.00" height="79.04" fill="#2f68a3" stroke="#0c1624" stroke-width="1.15"/>
<rect x="1870.30" y="1053.85" width="19.00" height="114.75" fill="#2f68a3" stroke="#0c1624" stroke-width="1.15"/>
<rect x="1889.30" y="1029.23" width="19.00" height="139.37" fill="#2f68a3" stroke="#0c1624" stroke-width="1.15"/>
<rect x="1908.30" y="1025.07" width="19.00" height="143.53" fill="#2f68a3" stroke="#0c1624" stroke-width="1.15"/>
<rect x="1927.30" y="1080.54" width="19.00" height="88.06" fill="#2f68a3" stroke="#0c1624" stroke-width="1.15"/>
<rect x="1946.30" y="1149.88" width="19.00" height="18.72" fill="#2f68a3" stroke="#0c1624" stroke-width="1.15"/>
<rect x="1382.9" y="839.6" width="608.1999999999998" height="343.19999999999993" fill="none" stroke="#050505" stroke-width="3.9"/>
<line x1="1377.3000000000002" y1="1168.6" x2="1381.4" y2="1168.6" stroke="#2b2b2b" stroke-width="3.3"/>
<text x="1374.8000000000002" y="1174.2" font-size="15.6" fill="#555555" text-anchor="end" textLength="9.4" lengthAdjust="spacingAndGlyphs">0</text>
<line x1="1377.3000000000002" y1="1107.0" x2="1381.4" y2="1107.0" stroke="#2b2b2b" stroke-width="3.3"/>
<text x="1374.8000000000002" y="1112.6" font-size="15.6" fill="#555555" text-anchor="end" textLength="37.6" lengthAdjust="spacingAndGlyphs">1000</text>
<line x1="1377.3000000000002" y1="1045.4" x2="1381.4" y2="1045.4" stroke="#2b2b2b" stroke-width="3.3"/>
<text x="1374.8000000000002" y="1051.0" font-size="15.6" fill="#555555" text-anchor="end" textLength="37.6" lengthAdjust="spacingAndGlyphs">2000</text>
<line x1="1377.3000000000002" y1="983.8" x2="1381.4" y2="983.8" stroke="#2b2b2b" stroke-width="3.3"/>
<text x="1374.8000000000002" y="989.4" font-size="15.6" fill="#555555" text-anchor="end" textLength="37.6" lengthAdjust="spacingAndGlyphs">3000</text>
<line x1="1377.3000000000002" y1="922.2" x2="1381.4" y2="922.2" stroke="#2b2b2b" stroke-width="3.3"/>
<text x="1374.8000000000002" y="927.8" font-size="15.6" fill="#555555" text-anchor="end" textLength="37.6" lengthAdjust="spacingAndGlyphs">4000</text>
<line x1="1377.3000000000002" y1="860.6" x2="1381.4" y2="860.6" stroke="#2b2b2b" stroke-width="3.3"/>
<text x="1374.8000000000002" y="866.2" font-size="15.6" fill="#555555" text-anchor="end" textLength="37.6" lengthAdjust="spacingAndGlyphs">5000</text>
<line x1="1481.7" y1="1184.3" x2="1481.7" y2="1187.7" stroke="#2b2b2b" stroke-width="3.6"/>
<text x="1482.0" y="1197.8" font-size="10.5" fill="#555555" text-anchor="middle" textLength="31.6" lengthAdjust="spacingAndGlyphs">1e+00</text>
<line x1="1628.1" y1="1184.3" x2="1628.1" y2="1187.7" stroke="#2b2b2b" stroke-width="3.6"/>
<text x="1628.4" y="1197.8" font-size="10.5" fill="#555555" text-anchor="middle" textLength="31.6" lengthAdjust="spacingAndGlyphs">1e+02</text>
<line x1="1774.6" y1="1184.3" x2="1774.6" y2="1187.7" stroke="#2b2b2b" stroke-width="3.6"/>
<text x="1774.9" y="1197.8" font-size="10.5" fill="#555555" text-anchor="middle" textLength="31.6" lengthAdjust="spacingAndGlyphs">1e+04</text>
<line x1="1921.0" y1="1184.3" x2="1921.0" y2="1187.7" stroke="#2b2b2b" stroke-width="3.6"/>
<text x="1921.3" y="1197.8" font-size="10.5" fill="#555555" text-anchor="middle" textLength="31.6" lengthAdjust="spacingAndGlyphs">1e+06</text>
<text transform="translate(1330 1010) rotate(-90)" font-size="18" fill="#1a1a1a" text-anchor="middle" textLength="52" lengthAdjust="spacingAndGlyphs">count</text>
<text x="1687" y="1222" font-size="24.5" fill="#1a1a1a" text-anchor="middle" textLength="162" lengthAdjust="spacingAndGlyphs">read distance</text>
<text x="1401" y="868.6" font-size="31" font-style="italic" fill="#000" textLength="183" lengthAdjust="spacingAndGlyphs">Rhodobacter</text>
<text x="1401" y="911.0" font-size="31" font-style="italic" fill="#000" textLength="172" lengthAdjust="spacingAndGlyphs">sphaeroides</text>
<text x="1401" y="953.4" font-size="31" fill="#000" textLength="131" lengthAdjust="spacingAndGlyphs">(69% GC)</text>
</g>
</svg>
</body></html>
